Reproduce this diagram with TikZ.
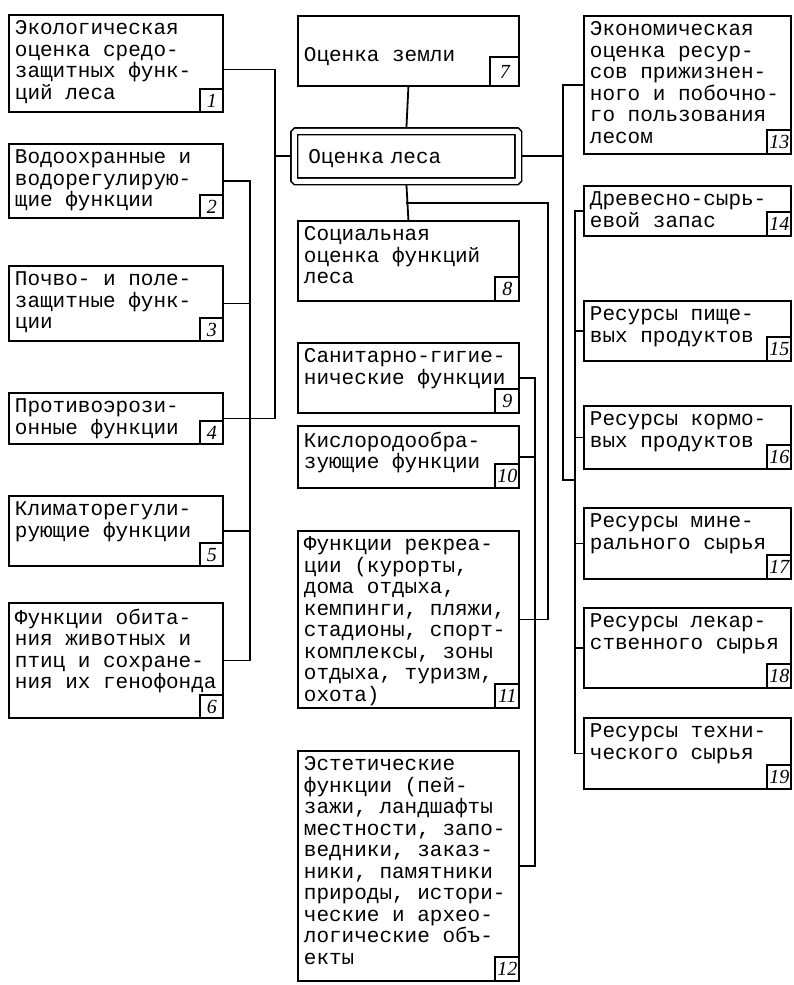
\documentclass[tikz,border=0pt]{standalone}
\usepackage{fontspec}
\newfontfamily\tw{Liberation Mono}
\newfontfamily\numf{Liberation Serif}
\usetikzlibrary{backgrounds,calc}
\tikzset{
  boxst/.style={draw, line width=1.8pt, fill=white, inner xsep=6pt, inner ysep=6pt, anchor=north west, font=\tw\fontsize{21}{21.5}\selectfont},
  numst/.style={line width=1.5pt},
  numtx/.style={font=\numf\itshape\fontsize{20}{20}\selectfont, inner sep=0pt},
  conn/.style={line width=1.8pt},
}
\newcommand\cbox[8]{%
  \node[boxst] (#1) at (#2,#3) {\parbox[t][\dimexpr#5pt-12pt\relax][t]{\dimexpr#4pt-12pt\relax}{\hyphenpenalty10000 \exhyphenpenalty10000 \raggedright #6}};
  \draw[numst] ([xshift=-#8pt]#1.south east) |- ([yshift=#8pt]#1.south east);
  \node[numtx] at ([xshift=-#8pt/2, yshift=#8pt/2]#1.south east) {#7};
}
\begin{document}
\begin{tikzpicture}[x=1pt,y=-1pt]
\useasboundingbox (0,0) rectangle (793,985);
% left column
\cbox{b1}{8}{14}{214}{97}{Экологическая\\оценка средо-\\защитных функ-\\ций леса}{1}{24}
\cbox{b2}{8}{143}{214}{74}{Водоохранные и\\водорегулирую-\\щие функции}{2}{24}
\cbox{b3}{8}{265}{214}{75}{Почво- и поле-\\защитные функ-\\ции}{3}{24}
\cbox{b4}{8}{392}{214}{51}{Противоэрози-\\онные функции}{4}{24}
\cbox{b5}{8}{495}{214}{70}{Климаторегули-\\рующие функции}{5}{24}
\cbox{b6}{8}{602}{214}{115}{Функции обита-\\ния животных и\\птиц и сохране-\\ния их генофонда}{6}{24}
% centre column
\cbox{b7}{297}{15}{221}{70}{\rule{0pt}{40pt}Оценка земли}{7}{30}
\node[draw, line width=1.6pt, double, double distance=5pt, fill=white, rounded corners=1.5pt,
      minimum width=224pt, minimum height=50pt, anchor=north west, inner xsep=14pt, inner ysep=0pt,
      text width=196pt, align=left, text depth=0pt, font=\tw\fontsize{21}{21.5}\selectfont]
      (les) at (293.5,130.5) {Оценка леса};
\cbox{b8}{297}{220}{221}{80}{Социальная\\оценка функций\\леса}{8}{25}
\cbox{b9}{297}{342}{221}{70}{Санитарно-гигие-\\нические функции}{9}{25}
\cbox{b10}{297}{425}{221}{62}{Кислородообра-\\зующие функции}{10}{25}
\cbox{b11}{297}{530}{221}{177}{Функции рекреа-\\ции (курорты,\\дома отдыха,\\кемпинги, пляжи,\\стадионы, спорт-\\комплексы, зоны\\отдыха, туризм,\\охота)}{11}{25}
\cbox{b12}{297}{750}{221}{230}{Эстетические\\функции (пей-\\зажи, ландшафты\\местности, запо-\\ведники, заказ-\\ники, памятники\\природы, истори-\\ческие и архео-\\логические объ-\\екты}{12}{25}
% right column
\cbox{b13}{583}{15}{207}{138}{Экономическая\\оценка ресур-\\сов прижизнен-\\ного и побочно-\\го пользования\\лесом}{13}{25}
\cbox{b14}{583}{185}{207}{50}{Древесно-сырь-\\евой запас}{14}{25}
\cbox{b15}{583}{300}{207}{60}{Ресурсы пище-\\вых продуктов}{15}{25}
\cbox{b16}{583}{405}{207}{63}{Ресурсы кормо-\\вых продуктов}{16}{25}
\cbox{b17}{583}{507}{207}{71}{Ресурсы мине-\\рального сырья}{17}{25}
\cbox{b18}{583}{607}{207}{80}{Ресурсы лекар-\\ственного сырья}{18}{25}
\cbox{b19}{583}{717}{207}{71}{Ресурсы техни-\\ческого сырья}{19}{25}
% bus coordinates
\coordinate (lA) at (275,0);
\coordinate (lB) at (250,0);
\coordinate (cA) at (548,203);
\coordinate (cB) at (535,0);
\coordinate (rA) at (563,480);
\coordinate (rB) at (575,0);
\begin{pgfonlayer}{background}
\begin{scope}[conn]
% left
\draw ([yshift=-6pt]b1.east) -| (lA |- b4.east) -- (b4.east);
\draw (les.west) -- (lA |- les.west);
\draw (b2.east) -| (lB |- b6.east) -- (b6.east);
\draw (b3.east) -- (lB |- b3.east);
\draw (b5.east) -- (lB |- b5.east);
% centre
\draw (b7.south) -- (les.north);
\draw (les.south) -- (b8.north);
\draw (les.south |- cA) -| (cA |- b11.east) -- (b11.east);
\draw (b9.east) -| (cB |- b12.east) -- (b12.east);
\draw (b10.east) -- (cB |- b10.east);
% right
\draw (b13.west) -| (rA) -- (rB |- rA);
\draw (les.east) -- (rA |- les.east);
\draw (b14.west) -| (rB |- b19.west) -- (b19.west);
\draw (b15.west) -- (rB |- b15.west);
\draw (b16.west) -- (rB |- b16.west);
\draw (b17.west) -- (rB |- b17.west);
\draw (b18.west) -- (rB |- b18.west);
\end{scope}
\end{pgfonlayer}
\end{tikzpicture}
\end{document}
